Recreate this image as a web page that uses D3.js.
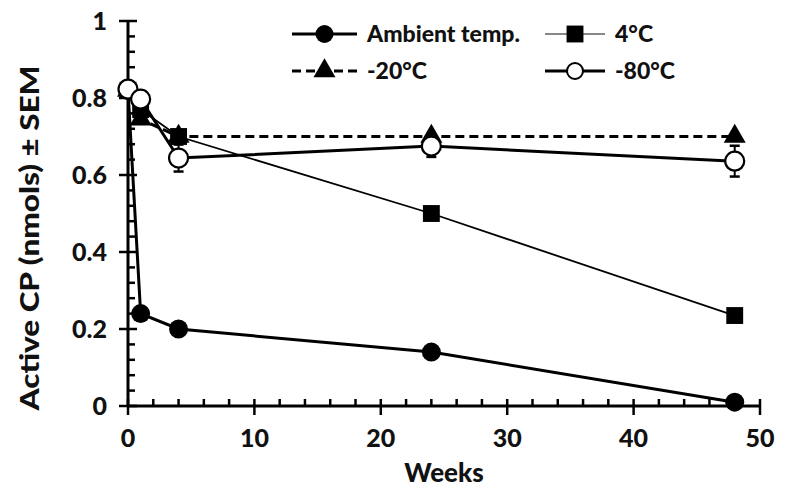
<!DOCTYPE html>
<html><head><meta charset="utf-8">
<script src="https://cdn.jsdelivr.net/npm/d3@7"></script>
<style>body{margin:0;background:#fff}svg{display:block}text{font-family:Lato,"Open Sans",sans-serif;font-weight:900;fill:#111}</style>
</head><body><svg id="c" width="796" height="499"></svg>
<script>
const weeks = [0, 1, 4, 24, 48];
const ambient = [0.82, 0.24, 0.20, 0.14, 0.01];
const c4 = [0.82, 0.77, 0.70, 0.50, 0.235];
const c20 = [0.82, 0.745, 0.70, 0.70, 0.70];
const c80 = [0.823, 0.797, 0.644, 0.675, 0.636];
const c80sem = [0, 0, 0.035, 0.028, 0.04];
const xTicks = [0, 10, 20, 30, 40, 50];
const yTicks = [0, 0.2, 0.4, 0.6, 0.8, 1];
const yTickLabels = ["0", "0.2", "0.4", "0.6", "0.8", "1"];
const legendNames = ["Ambient temp.", "4°C", "-20°C", "-80°C"];

const svg = d3.select("#c");
const x = d3.scaleLinear().domain([0, 50]).range([128, 760]);
const y = d3.scaleLinear().domain([0, 1]).range([406, 21]);

// axes
const ax = svg.append("g");
ax.append("line").attr("x1", x(0)).attr("x2", x(50)).attr("y1", y(0)).attr("y2", y(0)).attr("stroke", "#000").attr("stroke-width", 3);
ax.append("line").attr("x1", x(0)).attr("x2", x(0)).attr("y1", y(0)).attr("y2", y(1)).attr("stroke", "#000").attr("stroke-width", 3);
d3.range(0, 51, 2).forEach(w => {
  if (w % 10 !== 0) ax.append("line").attr("x1", x(w)).attr("x2", x(w)).attr("y1", y(0)).attr("y2", y(0) - 7).attr("stroke", "#000").attr("stroke-width", 2.5);
});
xTicks.forEach(w => {
  ax.append("line").attr("x1", x(w)).attr("x2", x(w)).attr("y1", y(0) - 7).attr("y2", y(0) + 9).attr("stroke", "#000").attr("stroke-width", 2.5);
  ax.append("text").attr("x", x(w)).attr("y", y(0) + 41).attr("text-anchor", "middle").attr("font-size", 25).text(d3.format("d")(w));
});
d3.range(0, 1.001, 0.04).forEach(v => {
  const isMajor = Math.abs(v * 5 - Math.round(v * 5)) < 1e-6;
  if (!isMajor) ax.append("line").attr("x1", x(0)).attr("x2", x(0) + 7).attr("y1", y(v)).attr("y2", y(v)).attr("stroke", "#000").attr("stroke-width", 2.5);
});
yTicks.forEach((v, i) => {
  ax.append("line").attr("x1", x(0) - 9).attr("x2", x(0) + 9).attr("y1", y(v)).attr("y2", y(v)).attr("stroke", "#000").attr("stroke-width", 2.5);
  ax.append("text").attr("x", 107).attr("y", y(v) + 9).attr("text-anchor", "end").attr("font-size", 25).text(yTickLabels[i]);
});
svg.append("text").attr("x", 444).attr("y", 482).attr("text-anchor", "middle").attr("font-size", 26).text("Weeks");
svg.append("text").attr("transform", "translate(39,238) rotate(-90)").attr("text-anchor", "middle").attr("font-size", 26)
  .attr("textLength", 345).attr("lengthAdjust", "spacingAndGlyphs").text("Active CP (nmols) ± SEM");

const line = d3.line().x((d, i) => x(weeks[i])).y(d => y(d));
const plot = svg.append("g");
plot.append("path").attr("d", line(c4)).attr("fill", "none").attr("stroke", "#000").attr("stroke-width", 1.8);
plot.append("path").attr("d", line(c20)).attr("fill", "none").attr("stroke", "#000").attr("stroke-width", 3).attr("stroke-dasharray", "9,5");
plot.append("path").attr("d", line(ambient)).attr("fill", "none").attr("stroke", "#000").attr("stroke-width", 3);
plot.append("path").attr("d", line(c80)).attr("fill", "none").attr("stroke", "#000").attr("stroke-width", 3);

const tri = d3.symbol().type(d3.symbolTriangle).size(210);
const sq = d3.symbol().type(d3.symbolSquare).size(285);
weeks.forEach((w, i) => {
  if (c80sem[i] > 0) {
    plot.append("line").attr("x1", x(w)).attr("x2", x(w)).attr("y1", y(c80[i] - c80sem[i])).attr("y2", y(c80[i] + c80sem[i])).attr("stroke", "#000").attr("stroke-width", 2);
    [c80[i] - c80sem[i], c80[i] + c80sem[i]].forEach(v => plot.append("line").attr("x1", x(w) - 5).attr("x2", x(w) + 5).attr("y1", y(v)).attr("y2", y(v)).attr("stroke", "#000").attr("stroke-width", 2.5));
  }
});
weeks.forEach((w, i) => {
  plot.append("circle").attr("cx", x(w)).attr("cy", y(ambient[i])).attr("r", 9.5).attr("fill", "#000");
});
weeks.forEach((w, i) => {
  plot.append("path").attr("d", tri).attr("transform", `translate(${x(w)},${y(c20[i])})`).attr("fill", "#000");
});
weeks.forEach((w, i) => {
  plot.append("path").attr("d", sq).attr("transform", `translate(${x(w)},${y(c4[i])})`).attr("fill", "#000");
});
weeks.forEach((w, i) => {
  plot.append("circle").attr("cx", x(w)).attr("cy", y(c80[i])).attr("r", 9.5).attr("fill", "#fff").attr("stroke", "#000").attr("stroke-width", 2.2);
});

// legend
const lg = svg.append("g");
const legendPos = [[292, 34], [545, 34], [292, 71], [545, 71]];
const lw = [65, 60, 65, 60];
legendPos.forEach(([lx, ly], i) => {
  const mid = lx + lw[i] / 2;
  const l = lg.append("line").attr("x1", lx).attr("x2", lx + lw[i]).attr("y1", ly).attr("y2", ly);
  if (i === 0 || i === 3) l.attr("stroke", "#000").attr("stroke-width", 3);
  if (i === 1) l.attr("stroke", "#888").attr("stroke-width", 2.2);
  if (i === 2) l.attr("stroke", "#000").attr("stroke-width", 3).attr("stroke-dasharray", "9,5");
  if (i === 0) lg.append("circle").attr("cx", mid).attr("cy", ly).attr("r", 9).attr("fill", "#000");
  if (i === 1) lg.append("path").attr("d", sq).attr("transform", `translate(${mid},${ly})`).attr("fill", "#000");
  if (i === 2) lg.append("path").attr("d", tri).attr("transform", `translate(${mid},${ly})`).attr("fill", "#000");
  if (i === 3) lg.append("circle").attr("cx", mid).attr("cy", ly).attr("r", 8).attr("fill", "#fff").attr("stroke", "#000").attr("stroke-width", 2);
  lg.append("text").attr("x", lx + lw[i] + 10).attr("y", ly + 8).attr("font-size", 23).text(legendNames[i]);
});
</script></body></html>
